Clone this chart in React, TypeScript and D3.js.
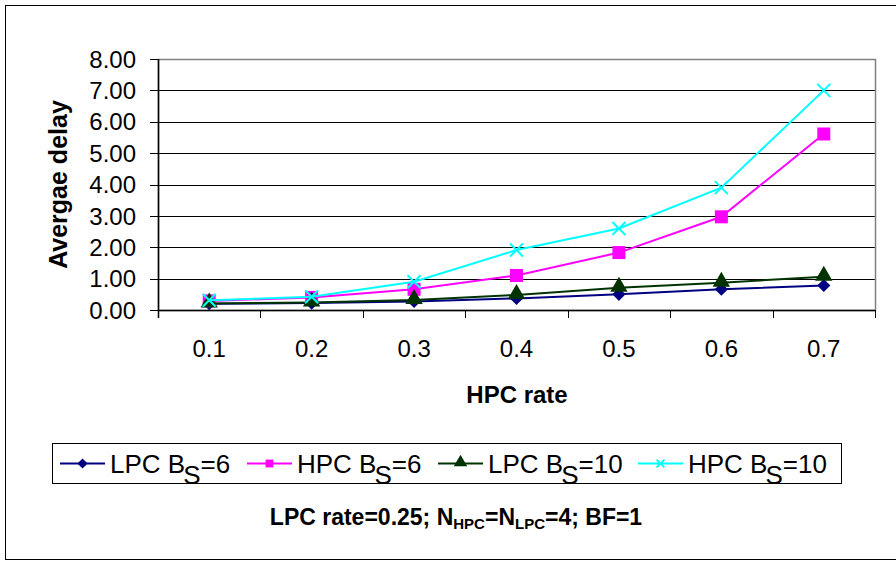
import React from 'react';
import * as d3 from 'd3';

const categories = ['0.1', '0.2', '0.3', '0.4', '0.5', '0.6', '0.7'];
const lpcBs6 = [0.2, 0.22, 0.27, 0.37, 0.5, 0.66, 0.78];
const hpcBs6 = [0.29, 0.4, 0.66, 1.1, 1.83, 2.97, 5.61];
const lpcBs10 = [0.21, 0.24, 0.32, 0.48, 0.71, 0.87, 1.06];
const hpcBs10 = [0.31, 0.42, 0.9, 1.91, 2.6, 3.9, 7.0];
const yTicks = [0, 1, 2, 3, 4, 5, 6, 7, 8];

const series = [
  { name: 'LPC B', sub: 'S', tail: '=6', values: lpcBs6, color: '#000080', marker: 'diamond' },
  { name: 'HPC B', sub: 'S', tail: '=6', values: hpcBs6, color: '#FF00FF', marker: 'square' },
  { name: 'LPC B', sub: 'S', tail: '=10', values: lpcBs10, color: '#003300', marker: 'triangle' },
  { name: 'HPC B', sub: 'S', tail: '=10', values: hpcBs10, color: '#00FFFF', marker: 'cross' },
];

const font = '"Liberation Sans", Arial, sans-serif';

const Marker = ({ type, color, x, y, s = 1 }) => {
  if (type === 'diamond') {
    return <path d={d3.symbol(d3.symbolDiamond2, 110 * s)()} transform={`translate(${x},${y})`} fill={color} />;
  }
  if (type === 'square') {
    const h = 6.5 * s;
    return <rect x={x - h} y={y - h} width={h * 2} height={h * 2} fill={color} />;
  }
  if (type === 'triangle') {
    return <path d={d3.symbol(d3.symbolTriangle, 130 * s)()} transform={`translate(${x},${y - 1})`} fill={color} />;
  }
  const h = 6.5 * s;
  return (
    <g stroke={color} strokeWidth={2}>
      <line x1={x - h} y1={y - h} x2={x + h} y2={y + h} />
      <line x1={x - h} y1={y + h} x2={x + h} y2={y - h} />
    </g>
  );
};

export default function App() {
  const left = 158, right = 875, top = 59, bottom = 310;

  const x = d3.scaleBand().domain(categories).range([left, right]);
  const y = d3.scaleLinear().domain([0, 8]).range([bottom, top]);
  const cx = (c) => x(c) + x.bandwidth() / 2;

  const line = d3.line<number>()
    .x((_, i) => cx(categories[i]))
    .y((d) => y(d));

  const legendStarts = [60, 247, 438, 638];

  return (
    <svg width={896} height={561} style={{ position: 'absolute', left: 0, top: 0 }} fontFamily={font}>
      <rect x={0} y={0} width={896} height={561} fill="#fff" />
      <rect x={5.5} y={5.5} width={900} height={554} fill="none" stroke="#000" />

      {/* grid */}
      {yTicks.map((t) => (
        <line key={`g${t}`} x1={left} x2={right} y1={Math.round(y(t)) + 0.5} y2={Math.round(y(t)) + 0.5} stroke="#000" />
      ))}
      <rect x={left + 0.5} y={Math.round(top) + 0.5} width={right - left} height={bottom - top} fill="none" stroke="#808080" strokeWidth={1.5} />

      {/* y axis */}
      <line x1={left + 0.5} x2={left + 0.5} y1={top} y2={bottom + 8} stroke="#000" strokeWidth={1.5} />
      {yTicks.map((t) => (
        <g key={`y${t}`}>
          <line x1={left - 8} x2={left} y1={Math.round(y(t)) + 0.5} y2={Math.round(y(t)) + 0.5} stroke="#000" />
          <text x={136} y={y(t)} dy="0.36em" textAnchor="end" fontSize={24}>{t.toFixed(2)}</text>
        </g>
      ))}

      {/* x axis */}
      <line x1={left} x2={right} y1={bottom + 0.5} y2={bottom + 0.5} stroke="#000" strokeWidth={1.5} />
      {categories.concat(['end']).map((c, i) => {
        const xx = Math.round(left + i * x.step()) + 0.5;
        return <line key={`xt${i}`} x1={xx} x2={xx} y1={bottom} y2={bottom + 8} stroke="#000" />;
      })}
      {categories.map((c) => (
        <text key={`x${c}`} x={cx(c)} y={357} textAnchor="middle" fontSize={24}>{c}</text>
      ))}

      {/* titles */}
      <text x={517} y={403} textAnchor="middle" fontSize={24} fontWeight="bold">HPC rate</text>
      <text transform={`translate(67,${(top + bottom) / 2}) rotate(-90)`} textAnchor="middle" fontSize={25} fontWeight="bold">Avergae delay</text>

      {/* series */}
      {series.map((s, si) => (
        <g key={`s${si}`}>
          <path d={line(s.values)} fill="none" stroke={s.color} strokeWidth={2} />
          {s.values.map((v, i) => (
            <Marker key={i} type={s.marker} color={s.color} x={cx(categories[i])} y={y(v)} />
          ))}
        </g>
      ))}

      {/* legend */}
      <rect x={52.5} y={443.5} width={789} height={40} fill="#fff" stroke="#000" />
      {series.map((s, si) => {
        const lx = legendStarts[si];
        return (
          <g key={`l${si}`}>
            <line x1={lx} x2={lx + 45} y1={463.5} y2={463.5} stroke={s.color} strokeWidth={2} />
            <Marker type={s.marker} color={s.color} x={lx + 22.5} y={463.5} s={0.6} />
            <text x={lx + 50} y={473} fontSize={26}>
              {s.name}
              <tspan dx={-2} dy={11}>{s.sub}</tspan>
              <tspan dy={-11}>{s.tail}</tspan>
            </text>
          </g>
        );
      })}

      {/* footnote */}
      <text x={456} y={525} textAnchor="middle" fontSize={23} fontWeight="bold">
        LPC rate=0.25; N
        <tspan fontSize={15} dy={4}>HPC</tspan>
        <tspan dy={-4}>=N</tspan>
        <tspan fontSize={15} dy={4}>LPC</tspan>
        <tspan dy={-4}>=4; BF=1</tspan>
      </text>
    </svg>
  );
}
